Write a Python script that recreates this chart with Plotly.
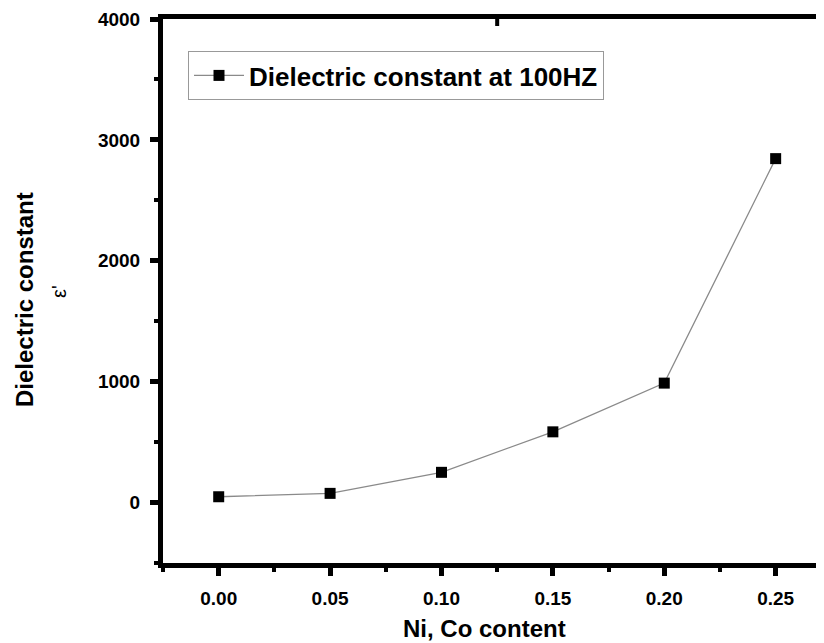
import plotly.graph_objects as go

# Data
ni_co_content = [0.00, 0.05, 0.10, 0.15, 0.20, 0.25]
dielectric_100hz = [48, 76, 250, 585, 988, 2845]
series_name = "Dielectric constant at 100HZ"
x_tick_vals = [0.00, 0.05, 0.10, 0.15, 0.20, 0.25]
x_tick_text = ["0.00", "0.05", "0.10", "0.15", "0.20", "0.25"]
y_tick_vals = [0, 1000, 2000, 3000, 4000]

FONT = "Liberation Sans, Arial, sans-serif"

# page body has an 8px margin: work in figure pixels = page pixels - 8
OFF = 8
W, H = 824 - OFF, 643 - OFF
L, R = 163 - OFF, 0
T = 19 - OFF
B = H - (563 - OFF)
pw = W - L - R
ph = H - T - B


def px_x(page_x):
    return (page_x - OFF - L) / pw


def px_y(page_y):
    return ((563 - OFF) - (page_y - OFF)) / ph


fig = go.Figure()
fig.add_trace(go.Scatter(
    x=ni_co_content, y=dielectric_100hz, name=series_name,
    mode="lines+markers",
    line=dict(color="#8a8a8a", width=1.3),
    marker=dict(symbol="square", size=11, color="black", line=dict(width=0)),
))

fig.update_layout(
    width=W, height=H,
    margin=dict(l=L, r=R, t=T, b=B),
    paper_bgcolor="white", plot_bgcolor="white",
    showlegend=True,
    legend=dict(
        x=px_x(188), y=px_y(51),
        xanchor="left", yanchor="top",
        bgcolor="white", bordercolor="#999999", borderwidth=1,
        font=dict(family=FONT, size=26, color="black", weight="bold"),
        itemwidth=50,
    ),
    xaxis=dict(
        range=[-0.025, 0.2717],
        tickvals=x_tick_vals, ticktext=x_tick_text,
        showgrid=False, zeroline=False,
        showline=True, linecolor="black", linewidth=5, mirror=True,
        ticks="outside", ticklen=8, tickwidth=5, tickcolor="black",
        minor=dict(ticks="outside", ticklen=4, tickwidth=4, tickcolor="black",
                   dtick=0.025, tick0=-0.025, showgrid=False),
        tickfont=dict(family=FONT, size=19, color="black", weight="bold"),
        ticklabelstandoff=6,
    ),
    yaxis=dict(
        range=[-500, 4000],
        tickvals=y_tick_vals,
        showgrid=False, zeroline=False,
        showline=True, linecolor="black", linewidth=5,
        ticks="outside", ticklen=8, tickwidth=5, tickcolor="black",
        minor=dict(ticks="outside", ticklen=4, tickwidth=4, tickcolor="black",
                   dtick=500, tick0=-500, showgrid=False),
        tickfont=dict(family=FONT, size=19, color="black", weight="bold"),
        ticklabelstandoff=6,
    ),
)

# small inward tick on the top axis
fig.add_shape(type="line", xref="x", yref="paper", x0=0.125, x1=0.125,
              y0=1, y1=1 - 7 / ph, line=dict(color="black", width=4))

# axis titles
fig.add_annotation(text="Ni, Co content", xref="paper", yref="paper",
                   x=px_x(484), y=px_y(628), showarrow=False,
                   xanchor="center", yanchor="middle",
                   font=dict(family=FONT, size=24, color="black", weight="bold"))
fig.add_annotation(text="Dielectric constant", xref="paper", yref="paper",
                   x=px_x(24), y=px_y(300), showarrow=False,
                   textangle=-90, xanchor="center", yanchor="middle",
                   font=dict(family=FONT, size=24, color="black", weight="bold"))
fig.add_annotation(text="ε'", xref="paper", yref="paper",
                   x=px_x(59), y=px_y(292), showarrow=False,
                   textangle=-90, xanchor="center", yanchor="middle",
                   font=dict(family=FONT, size=20, color="black"))

fig.write_html("out.html")
